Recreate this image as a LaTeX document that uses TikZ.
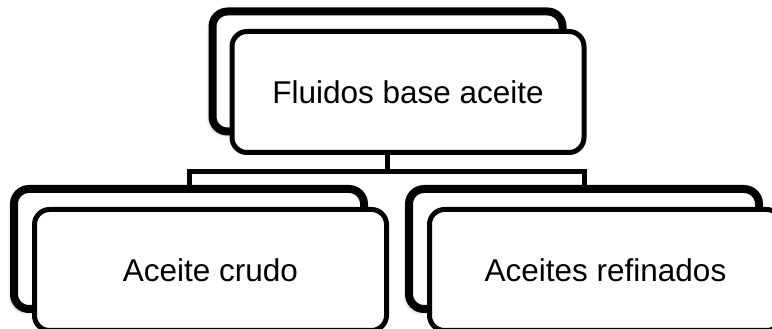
\documentclass[tikz,border=0pt]{standalone}
\usepackage{fontspec}
\setmainfont{Liberation Sans}
\usetikzlibrary{shadows.blur}
\begin{document}
\begin{tikzpicture}[x=1pt,y=1pt,
  backbox/.style={draw=black, line width=8pt, rounded corners=15pt, fill=white,
    minimum width=350pt, minimum height=120pt, inner sep=0pt,
    blur shadow={shadow xshift=-3pt, shadow yshift=-3pt, shadow blur radius=3pt, shadow opacity=35}},
  frontbox/.style={draw=black, line width=5pt, rounded corners=15pt, fill=white,
    minimum width=352pt, minimum height=121pt, inner sep=0pt,
    font=\fontsize{31.5}{38}\selectfont},
  conn/.style={draw=black, line width=5pt}]
\useasboundingbox (0,0) rectangle (772,329);
\node[backbox] (topback) at (387.5,257.5) {};
\node[frontbox] (topfront) at (408,237) {Fluidos base aceite};
\node[backbox] (lback) at (189,80) {};
\node[frontbox] (lfront) at (210.5,59) {Aceite crudo};
\node[backbox] (rback) at (584,80) {};
\node[frontbox] (rfront) at (605.5,59) {Aceites refinados};
\coordinate (bar) at (387,157);
\draw[conn] (topfront.south -| bar) -- (bar);
\draw[conn] (bar) -| (lback.north);
\draw[conn] (bar) -| (rback.north);
\end{tikzpicture}
\end{document}
